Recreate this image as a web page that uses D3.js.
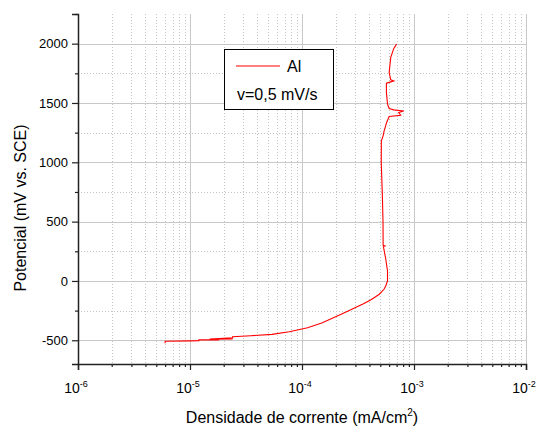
<!DOCTYPE html>
<html>
<head>
<meta charset="utf-8">
<script src="https://cdn.jsdelivr.net/npm/d3@7"></script>
<style>
  body { margin: 0; background: #fff; }
  text { font-family: "Liberation Sans", Arial, sans-serif; fill: #000; }
</style>
</head>
<body>
<svg id="chart" width="536" height="430"></svg>
<script>
// current density (mA/cm2) and potential (mV vs SCE)
var current = [6.0e-6, 6.0e-6, 1.0e-5, 1.2e-5, 1.2e-5, 1.8e-5, 1.8e-5, 2.4e-5, 1.5e-5, 2.4e-5,
  2.4e-5, 3.5e-5, 5.4e-5, 7.7e-5, 1.12e-4, 1.5e-4, 1.93e-4, 2.5e-4, 2.91e-4, 3.5e-4,
  4.1e-4, 4.9e-4, 5.4e-4, 5.6e-4, 5.8e-4, 5.8e-4, 5.6e-4, 5.33e-4, 5.5e-4, 5.3e-4,
  5.29e-4, 5.22e-4, 5.1e-4, 5.11e-4, 5.3e-4, 5.4e-4, 5.7e-4, 6.0e-4, 7.6e-4, 7.3e-4,
  8.1e-4, 6.6e-4, 6.0e-4, 5.8e-4, 5.67e-4, 5.67e-4, 6.2e-4, 6.6e-4, 6.2e-4, 6.0e-4,
  6.2e-4, 6.6e-4, 7.0e-4];
var potential = [-525, -508, -505, -503, -497, -497, -488, -488, -490, -480,
  -470, -462, -450, -428, -395, -355, -309, -260, -230, -195,
  -160, -112, -70, -40, 0, 84, 183, 290, 295, 300,
  492, 717, 998, 1181, 1223, 1260, 1336, 1386, 1397, 1420,
  1433, 1442, 1454, 1490, 1589, 1667, 1678, 1686, 1695, 1757,
  1884, 1960, 1996];

var xDomain = [1e-6, 1e-2];
var yDomain = [-700, 2250];
var yMajor = [-500, 0, 500, 1000, 1500, 2000];
var yMinor = [-250, 250, 750, 1250, 1750, 2250];
var xDecades = [-6, -5, -4, -3, -2];
var legendLabels = ["Al", "v=0,5 mV/s"];

var svg = d3.select("#chart");

var mLeft = 78, mRight = 526, mTop = 14, mBottom = 364;

var x = d3.scaleLog().domain(xDomain).range([mLeft, mRight]);
var y = d3.scaleLinear().domain(yDomain).range([mBottom, mTop]);

// minor x values 2..9 of each decade
var xMinor = [];
xDecades.slice(0, -1).forEach(function(e) {
  for (var k = 2; k <= 9; k++) xMinor.push(k * Math.pow(10, e));
});
var xMajor = xDecades.map(function(e) { return Math.pow(10, e); });

var grid = svg.append("g");

grid.selectAll(".vmin").data(xMinor).enter().append("line")
  .attr("x1", function(d) { return Math.round(x(d)) + 0.5; })
  .attr("x2", function(d) { return Math.round(x(d)) + 0.5; })
  .attr("y1", mTop).attr("y2", mBottom)
  .attr("stroke", "#c4c4c4").attr("stroke-dasharray", "1,2");

grid.selectAll(".hmin").data(yMinor.filter(function(d) { return d < 2200; })).enter().append("line")
  .attr("x1", mLeft).attr("x2", mRight)
  .attr("y1", function(d) { return Math.round(y(d)) + 0.5; })
  .attr("y2", function(d) { return Math.round(y(d)) + 0.5; })
  .attr("stroke", "#c4c4c4").attr("stroke-dasharray", "1,2");

grid.selectAll(".vmaj").data(xMajor.slice(1)).enter().append("line")
  .attr("x1", function(d) { return Math.round(x(d)) + 0.5; })
  .attr("x2", function(d) { return Math.round(x(d)) + 0.5; })
  .attr("y1", mTop).attr("y2", mBottom)
  .attr("stroke", "#c8c8c8");

grid.selectAll(".hmaj").data(yMajor).enter().append("line")
  .attr("x1", mLeft).attr("x2", mRight)
  .attr("y1", function(d) { return Math.round(y(d)) + 0.5; })
  .attr("y2", function(d) { return Math.round(y(d)) + 0.5; })
  .attr("stroke", "#c8c8c8");

// curve
var line = d3.line()
  .x(function(d) { return x(d[0]); })
  .y(function(d) { return y(d[1]); });

svg.append("path")
  .datum(d3.zip(current, potential))
  .attr("d", line)
  .attr("fill", "none")
  .attr("stroke", "#ff0000")
  .attr("stroke-width", 1.1);

// y axis (plain hyphen for negatives)
var yAxis = svg.append("g")
  .attr("transform", "translate(" + mLeft + ",0)")
  .call(d3.axisLeft(y).tickValues(yMajor).tickSize(6).tickPadding(4)
    .tickFormat(function(d) { return String(d); }));
svg.append("g")
  .attr("transform", "translate(" + mLeft + ",0)")
  .call(d3.axisLeft(y).tickValues(yMinor).tickSize(3).tickFormat(""))
  .select(".domain").remove();
yAxis.selectAll("text").style("font-size", "13px");

// x axis
svg.append("g")
  .attr("transform", "translate(0," + mBottom + ")")
  .call(d3.axisBottom(x).tickValues(xMajor).tickSize(6).tickFormat(""));
svg.append("g")
  .attr("transform", "translate(0," + mBottom + ")")
  .call(d3.axisBottom(x).tickValues(xMinor).tickSize(3).tickFormat(""))
  .select(".domain").remove();

svg.selectAll(".domain").attr("stroke", "#222").attr("stroke-width", 1.5);
svg.selectAll(".tick line").attr("stroke", "#222").attr("stroke-width", 1.2);

// x tick labels as 10 with superscript exponent
var xl = svg.append("g").attr("class", "xlabels")
  .selectAll("text").data(xDecades).enter().append("text")
  .attr("x", function(d) { return x(Math.pow(10, d)) - 2; })
  .attr("y", 393)
  .attr("text-anchor", "middle");
xl.append("tspan").style("font-size", "14px").text("10");
xl.append("tspan").attr("dy", -6).style("font-size", "9px").text(function(d) { return d; });

// axis titles
svg.append("text")
  .attr("transform", "translate(26," + 208 + ") rotate(-90)")
  .attr("text-anchor", "middle")
  .style("font-size", "16px")
  .text("Potencial (mV vs. SCE)");

var xt = svg.append("text")
  .attr("x", 302).attr("y", 423)
  .attr("text-anchor", "middle")
  .style("font-size", "16px");
xt.append("tspan").text("Densidade de corrente (mA/cm");
xt.append("tspan").attr("dy", -7).style("font-size", "10px").text("2");
xt.append("tspan").attr("dy", 7).text(")");

// legend
var lg = svg.append("g");
lg.append("rect")
  .attr("x", 224.5).attr("y", 49.5).attr("width", 109).attr("height", 60)
  .attr("fill", "#fff").attr("stroke", "#000").attr("stroke-width", 1);
lg.append("line")
  .attr("x1", 236).attr("x2", 280).attr("y1", 66).attr("y2", 66)
  .attr("stroke", "#ff0000").attr("stroke-width", 1.1);
lg.append("text").attr("x", 287).attr("y", 72).style("font-size", "16px").text(legendLabels[0]);
lg.append("text").attr("x", 237).attr("y", 100).style("font-size", "16px").text(legendLabels[1]);
</script>
</body>
</html>
